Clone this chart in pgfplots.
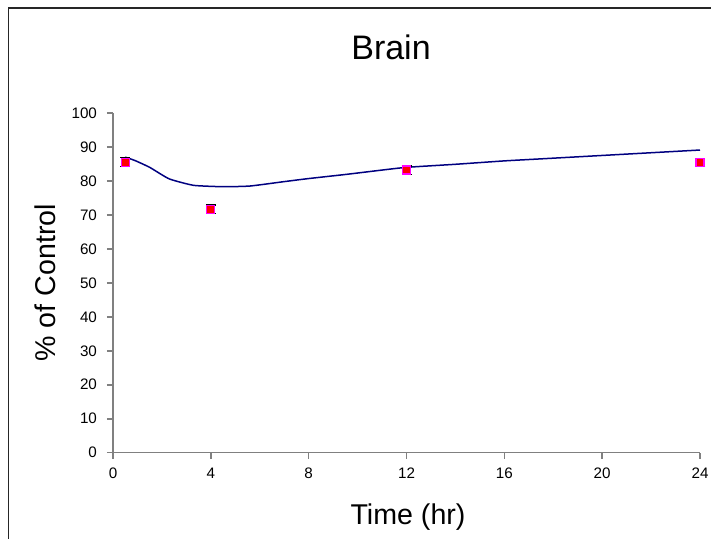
\documentclass[border=0pt]{standalone}
\usepackage{fontspec}
\setmainfont{Liberation Sans}
\usepackage{pgfplots}
\pgfplotsset{compat=1.18}
\definecolor{axgray}{HTML}{808080}
\definecolor{navy}{HTML}{000080}
\definecolor{mag}{HTML}{FF00FF}
\begin{document}
\begin{tikzpicture}
\useasboundingbox (-56.5pt,-43.15pt) rectangle (299pt,226.35pt);
\draw[line width=0.8pt, black!85] (-52.25pt,-43.15pt) -- (-52.25pt,222.35pt) -- (299pt,222.35pt);
\begin{axis}[
  at={(0,0)}, anchor=origin,
  scale only axis,
  width=293.5pt, height=169.85pt,
  xmin=0, xmax=24, ymin=0, ymax=100,
  xtick={0,4,8,12,16,20,24},
  ytick={0,10,...,100},
  axis x line*=bottom, axis y line*=left,
  axis line style={axgray, line width=0.8pt, -},
  tick style={axgray, line width=0.8pt},
  tick align=outside,
  major tick length=3pt,
  tick label style={font=\fontsize{7.6pt}{9pt}\selectfont},
  /pgf/number format/assume math mode=true,
  xticklabel style={yshift=-1pt},
  yticklabel style={xshift=-1.5pt},
  title={Brain},
  title style={font=\fontsize{17pt}{20pt}\selectfont, at={(axis description cs:0.4736,1.157)}, anchor=center},
  xlabel={Time (hr)},
  xlabel style={font=\fontsize{14.3pt}{17pt}\selectfont, at={(axis description cs:0.5026,-0.19)}, anchor=center},
  ylabel={\% of Control},
  ylabel style={font=\fontsize{14.3pt}{17pt}\selectfont, at={(axis description cs:-0.1158,0.5)}, anchor=center, rotate=0},
  clip=false,
]
\addplot[navy, line width=0.75pt, smooth, tension=0.3, no marks] coordinates {
(0.5,87.0) (0.9,86.0) (1.5,84.0) (2.3,80.6) (3.3,78.7) (4.5,78.3) (5.6,78.5)
(7,79.8) (8,80.7) (9.5,81.9) (11,83.2) (12,84.0) (14,84.9) (16,85.9)
(17.5,86.5) (20,87.5) (22,88.3) (24,89.1)
};
\addplot[only marks, mark=square*, mark size=2pt,
  mark options={fill=red, draw=mag, line width=0.6pt},
  error bars/.cd, y dir=both, y explicit,
  error bar style={black, line width=0.6pt},
  error mark options={rotate=90, mark size=2.5pt, black, line width=0.6pt}]
coordinates {
(0.5,85.5) +- (0,1.3)
(4,71.6) +- (0,1.3)
(12,83.2) +- (0,1.2)
(24,85.5) +- (0,1.2)
};
\end{axis}
\end{tikzpicture}
\end{document}
